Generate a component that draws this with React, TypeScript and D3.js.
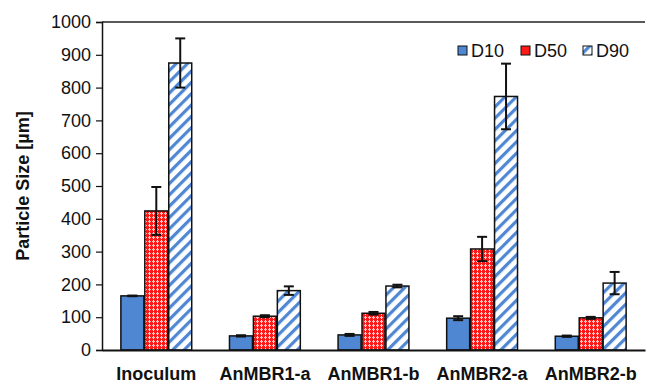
import { useEffect, useRef } from 'react';
import * as d3 from 'd3';

const categories = ['Inoculum', 'AnMBR1-a', 'AnMBR1-b', 'AnMBR2-a', 'AnMBR2-b'];
const seriesNames = ['D10', 'D50', 'D90'];
const d10 = [165, 43, 46, 97, 42];
const d50 = [424, 103, 112, 308, 98];
const d90 = [875, 181, 195, 773, 204];
const d10Err = [1, 2, 3, 6, 2];
const d50Err = [73, 3, 4, 37, 3];
const d90Err = [75, 13, 4, 100, 34];
const yTicks = [0, 100, 200, 300, 400, 500, 600, 700, 800, 900, 1000];

export default function App() {
  const svgRef = useRef<SVGSVGElement | null>(null);

  useEffect(() => {
    const width = 646;
    const height = 386;
    const svg = d3.select(svgRef.current);
    svg.selectAll('*').remove();
    svg.attr('width', width).attr('height', height);

    const margin = { top: 22, right: 1, bottom: 36, left: 102 };
    const font = 'Arial, "Liberation Sans", sans-serif';

    // patterns
    const defs = svg.append('defs');
    const dots = defs.append('pattern')
      .attr('id', 'pat50').attr('patternUnits', 'userSpaceOnUse')
      .attr('width', 4).attr('height', 4);
    dots.append('rect').attr('width', 4).attr('height', 4).attr('fill', '#ff1a1a');
    dots.append('rect').attr('x', 1).attr('y', 0).attr('width', 1).attr('height', 1).attr('fill', '#ffffff');
    dots.append('rect').attr('x', 0).attr('y', 1).attr('width', 3).attr('height', 1).attr('fill', '#ffb0b0');
    dots.append('rect').attr('x', 1).attr('y', 2).attr('width', 1).attr('height', 1).attr('fill', '#ffffff');

    const stripes = defs.append('pattern')
      .attr('id', 'pat90').attr('patternUnits', 'userSpaceOnUse')
      .attr('width', 8).attr('height', 8)
      .attr('patternTransform', 'rotate(45)');
    stripes.append('rect').attr('width', 8).attr('height', 8).attr('fill', '#ffffff');
    stripes.append('rect').attr('x', 0).attr('width', 3.2).attr('height', 8).attr('fill', '#4f87d3');

    const fills = ['#4f87d3', 'url(#pat50)', 'url(#pat90)'];
    const legendFills = ['#4f87d3', '#ff1a1a', 'url(#pat90)'];
    const values = [d10, d50, d90];
    const errs = [d10Err, d50Err, d90Err];

    const x0 = d3.scaleBand<string>()
      .domain(categories)
      .range([margin.left, width - margin.right])
      .paddingInner(0.33)
      .paddingOuter(0.165);
    const x1 = d3.scaleBand<string>()
      .domain(seriesNames)
      .range([0, x0.bandwidth()])
      .padding(0.04);
    const y = d3.scaleLinear()
      .domain([0, 1000])
      .range([height - margin.bottom, margin.top]);

    // top line
    svg.append('line')
      .attr('x1', margin.left).attr('x2', width - margin.right)
      .attr('y1', y(1000)).attr('y2', y(1000))
      .attr('stroke', '#222').attr('stroke-width', 1.5);

    // bars
    seriesNames.forEach((s, si) => {
      const g = svg.append('g');
      g.selectAll('rect')
        .data(categories)
        .enter()
        .append('rect')
        .attr('x', (c) => (x0(c) as number) + (x1(s) as number))
        .attr('y', (_c, i) => y(values[si][i]))
        .attr('width', x1.bandwidth())
        .attr('height', (_c, i) => y(0) - y(values[si][i]))
        .attr('fill', fills[si])
        .attr('stroke', '#111')
        .attr('stroke-width', 1.5);

      // error bars
      categories.forEach((c, i) => {
        const cx = (x0(c) as number) + (x1(s) as number) + x1.bandwidth() / 2;
        const hi = y(values[si][i] + errs[si][i]);
        const lo = y(values[si][i] - errs[si][i]);
        const eg = svg.append('g').attr('stroke', '#111').attr('stroke-width', 2);
        eg.append('line').attr('x1', cx).attr('x2', cx).attr('y1', hi).attr('y2', lo);
        eg.append('line').attr('x1', cx - 5).attr('x2', cx + 5).attr('y1', hi).attr('y2', hi);
        eg.append('line').attr('x1', cx - 5).attr('x2', cx + 5).attr('y1', lo).attr('y2', lo);
      });
    });

    // y axis
    const yAxis = svg.append('g')
      .attr('transform', `translate(${margin.left},0)`)
      .call(d3.axisLeft(y).tickValues(yTicks).tickFormat(d3.format('d')).tickSize(6).tickPadding(5));
    yAxis.select('.domain').attr('stroke', '#111').attr('stroke-width', 1.5);
    yAxis.selectAll('line').attr('stroke', '#111').attr('stroke-width', 1.2);
    yAxis.selectAll('text')
      .attr('font-family', font).attr('font-size', 18).attr('fill', '#111');

    // x axis
    const xAxis = svg.append('g')
      .attr('transform', `translate(0,${y(0)})`)
      .call(d3.axisBottom(x0).tickSize(0).tickPadding(17));
    xAxis.select('.domain').attr('stroke', '#111').attr('stroke-width', 2);
    xAxis.selectAll('text')
      .attr('font-family', font).attr('font-size', 18).attr('font-weight', 'bold').attr('fill', '#111');

    // y title
    svg.append('text')
      .attr('transform', `translate(29,${(y(0) + y(1000)) / 2}) rotate(-90)`)
      .attr('text-anchor', 'middle')
      .attr('font-family', font).attr('font-size', 18).attr('font-weight', 'bold').attr('fill', '#111')
      .text('Particle Size [µm]');

    // legend
    const legendX = [458, 521, 583];
    const legend = svg.append('g');
    seriesNames.forEach((s, i) => {
      legend.append('rect')
        .attr('x', legendX[i]).attr('y', 46)
        .attr('width', 9).attr('height', 9)
        .attr('fill', legendFills[i])
        .attr('stroke', '#111').attr('stroke-width', 1);
      legend.append('text')
        .attr('x', legendX[i] + 13).attr('y', 57)
        .attr('font-family', font).attr('font-size', 18).attr('fill', '#111')
        .text(s);
    });
  }, []);

  return (
    <div style={{ position: 'absolute', left: 0, top: 0 }}>
      <svg ref={svgRef} style={{ display: 'block', background: '#fff' }}></svg>
    </div>
  );
}
